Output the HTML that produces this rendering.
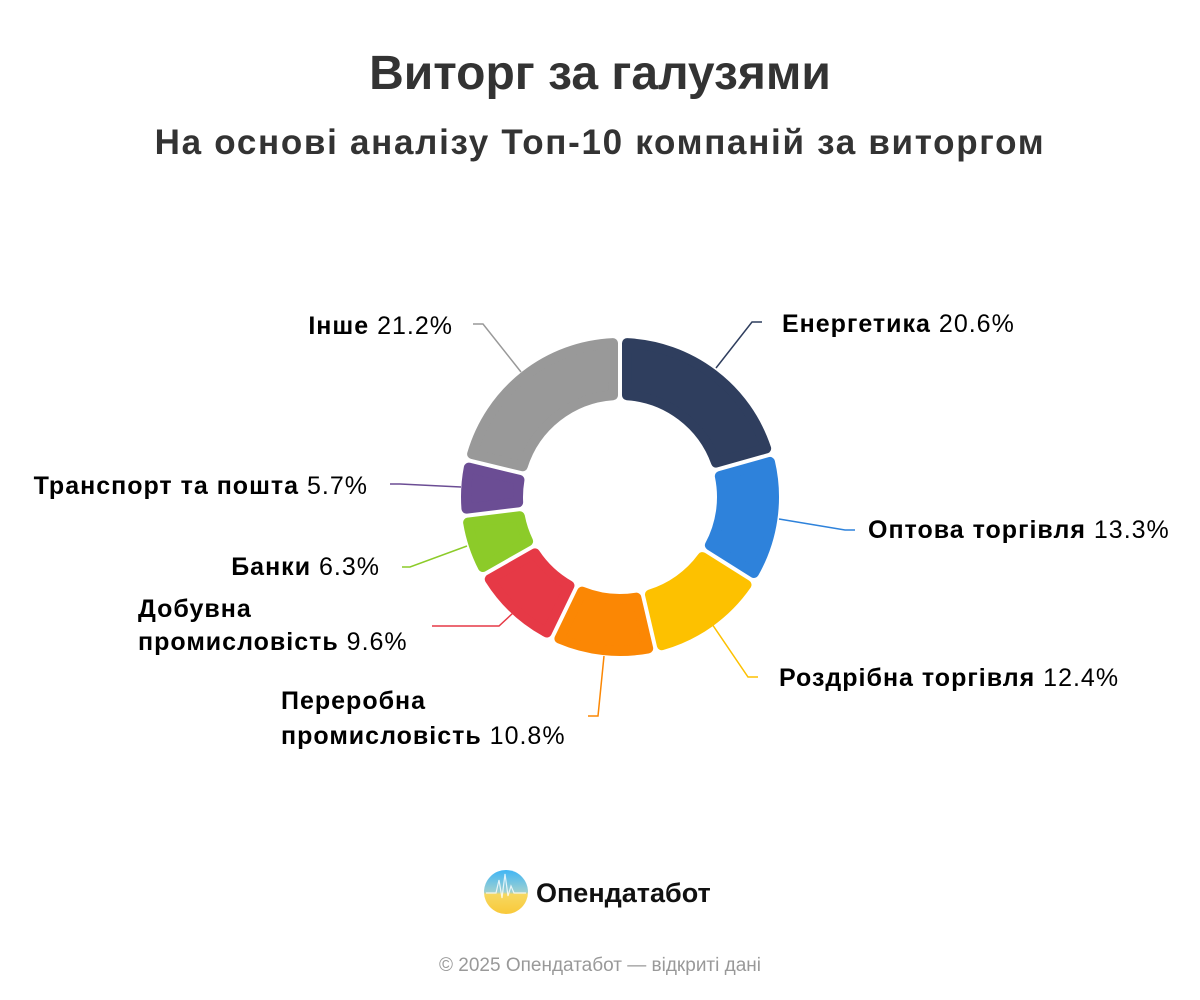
<!DOCTYPE html>
<html><head><meta charset="utf-8"><style>
body{margin:0;background:#fff;width:1200px;height:1000px;overflow:hidden;font-family:"Liberation Sans","DejaVu Sans",sans-serif;}
.t{position:absolute;width:1200px;text-align:center;color:#333;}
.l{font-size:25px;fill:#000;letter-spacing:1px;}
.l .b{font-weight:bold;}
</style></head><body>
<div class="t" style="top:46px;font-size:48px;font-weight:bold;">Виторг за галузями</div>
<div class="t" style="top:123px;font-size:35px;font-weight:bold;letter-spacing:1.7px;">На основі аналізу Топ-10 компаній за виторгом</div>
<svg id="s" width="1200" height="1000" style="position:absolute;left:0;top:0">
<g id="segs"></g>
<g fill="none" stroke-width="1.5">
<polyline points="716,368 752,322 762,322" stroke="#2f3e5e"/>
<polyline points="779,519 845,530 855,530" stroke="#2e82db"/>
<polyline points="712,624 748,677 758,677" stroke="#fdc100"/>
<polyline points="604,656 598,716 588,716" stroke="#fb8704"/>
<polyline points="513,613 499,626 432,626" stroke="#e63946"/>
<polyline points="467,546 410,567 402,567" stroke="#8ccb29"/>
<polyline points="461,487 400,484 390,484" stroke="#6b4d94"/>
<polyline points="521,372 483,324 473,324" stroke="#999"/>
</g>
<g class="l">
<text x="782" y="332"><tspan class="b">Енергетика</tspan> 20.6%</text>
<text x="868" y="538"><tspan class="b">Оптова торгівля</tspan> 13.3%</text>
<text x="779" y="686"><tspan class="b">Роздрібна торгівля</tspan> 12.4%</text>
<text x="281" y="709" font-weight="bold">Переробна</text>
<text x="281" y="744"><tspan class="b">промисловість</tspan> 10.8%</text>
<text x="138" y="617" font-weight="bold">Добувна</text>
<text x="138" y="650"><tspan class="b">промисловість</tspan> 9.6%</text>
<text x="380" y="575" text-anchor="end"><tspan class="b">Банки</tspan> 6.3%</text>
<text x="368" y="494" text-anchor="end"><tspan class="b">Транспорт та пошта</tspan> 5.7%</text>
<text x="453" y="334" text-anchor="end"><tspan class="b">Інше</tspan> 21.2%</text>
</g>
<defs><linearGradient id="lg" x1="0" y1="0" x2="0" y2="1"><stop offset="0" stop-color="#3fb5f5"/><stop offset="0.5" stop-color="#9fd0d0"/><stop offset="0.55" stop-color="#f6d860"/><stop offset="1" stop-color="#f9c93a"/></linearGradient></defs>
<circle cx="506" cy="892" r="22" fill="url(#lg)"/>
<polyline points="486,893 496,893 499,880 502,898 505,874 508,896 511,886 514,893 526,893" fill="none" stroke="#fff" stroke-width="1.2" opacity="0.8"/>
<text x="536" y="902" font-size="27" font-weight="bold" fill="#111">Опендатабот</text>
<text x="600" y="971" font-size="19" fill="#999" text-anchor="middle">© 2025 Опендатабот — відкриті дані</text>
</svg>
<script>
var d=[[20.6,"#2f3e5e"],[13.3,"#2e82db"],[12.4,"#fdc100"],[10.8,"#fb8704"],[9.6,"#e63946"],[6.3,"#8ccb29"],[5.7,"#6b4d94"],[21.2,"#999999"]];
var cx=620,cy=497,R=159-5,r=97+5,tot=99.9,a=0,g=document.getElementById("segs"),h="";
function p(rad,ang){return (cx+rad*Math.sin(ang)).toFixed(2)+","+(cy-rad*Math.cos(ang)).toFixed(2);}
d.forEach(function(s){var a0=a*2*Math.PI/tot,a1=(a+s[0])*2*Math.PI/tot;a+=s[0];
var po=7/R,pi=7/r;var o0=a0+po,o1=a1-po,i0=a0+pi,i1=a1-pi;var lg=(a1-a0)>Math.PI?1:0;
h+='<path d="M'+p(R,o0)+' A'+R+','+R+' 0 '+lg+' 1 '+p(R,o1)+' L'+p(r,i1)+' A'+r+','+r+' 0 '+lg+' 0 '+p(r,i0)+' Z" fill="'+s[1]+'" stroke="'+s[1]+'" stroke-width="10" stroke-linejoin="round"/>';});
g.innerHTML=h;
</script>
</body></html>
